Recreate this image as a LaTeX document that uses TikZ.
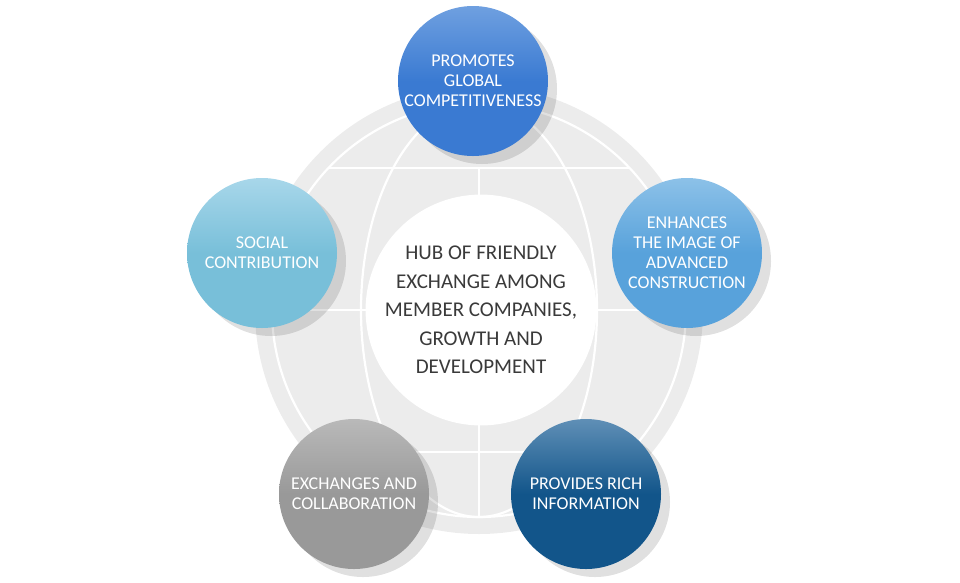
\documentclass[tikz,border=0pt]{standalone}
\usepackage{fontspec}
\setmainfont{Carlito}
\definecolor{globegray}{HTML}{ECECEC}
\definecolor{hubtext}{HTML}{3A3A3A}
\definecolor{blueA}{HTML}{3A7AD2}
\definecolor{blueAlt}{HTML}{6FA0E0}
\definecolor{blueB}{HTML}{58A2DB}
\definecolor{blueBlt}{HTML}{8CC1E8}
\definecolor{cyanC}{HTML}{78BFD9}
\definecolor{cyanClt}{HTML}{A8D7EA}
\definecolor{grayD}{HTML}{999999}
\definecolor{grayDlt}{HTML}{B9B9B9}
\definecolor{navyE}{HTML}{12558A}
\definecolor{navyElt}{HTML}{5F8FB6}
\begin{document}
\begin{tikzpicture}[
    x=1pt, y=-1pt,
    globe/.style={fill=globegray},
    gridline/.style={draw=white, line width=2.2pt},
    hubdisk/.style={circle, fill=white, minimum size=216pt, inner sep=0pt,
      align=center, text=hubtext, font=\fontsize{21}{28.5}\selectfont},
    bubble/.style={circle, minimum size=150pt, inner sep=0pt, align=center,
      text=white, font=\fontsize{18}{20}\selectfont,
      preaction={fill=black, fill opacity=0.12,
        transform canvas={shift={(9pt,-8pt)}}}},
    tint/.style 2 args={top color=#2, bottom color=#1, middle color=#1}
  ]
  \useasboundingbox (0,0) rectangle (960,582);

  %--------------------------------------
  % 1) Globe in the background
  %--------------------------------------
  \coordinate (G) at (479,310);
  \fill[globe] (G) circle (224);
  \draw[gridline] (G) circle (207);
  \draw[gridline] (G) ellipse (118 and 207);
  % latitudes and axes
  \draw[gridline] (328,168) -- (630,168);
  \draw[gridline] (328,452) -- (630,452);
  \draw[gridline] (272,310) -- (686,310);
  \draw[gridline] (479,168) -- (479,517);

  %--------------------------------------
  % 2) Hub in the middle
  %--------------------------------------
  \node[hubdisk] (hub) at (481,310)
    {HUB OF FRIENDLY\\EXCHANGE AMONG\\MEMBER COMPANIES,\\GROWTH AND\\DEVELOPMENT};

  %--------------------------------------
  % 3) Five bubbles round the hub
  %--------------------------------------
  \node[bubble, tint={blueA}{blueAlt}] (promote) at (473,81)
    {PROMOTES\\GLOBAL\\COMPETITIVENESS};
  \node[bubble, tint={blueB}{blueBlt}] (enhance) at (687,253)
    {ENHANCES\\THE IMAGE OF\\ADVANCED\\CONSTRUCTION};
  \node[bubble, tint={navyE}{navyElt}] (inform) at (586,494)
    {PROVIDES RICH\\INFORMATION};
  \node[bubble, tint={grayD}{grayDlt}] (exchange) at (354,494)
    {EXCHANGES AND\\COLLABORATION};
  \node[bubble, tint={cyanC}{cyanClt}] (social) at (262,253)
    {SOCIAL\\CONTRIBUTION};

\end{tikzpicture}
\end{document}
